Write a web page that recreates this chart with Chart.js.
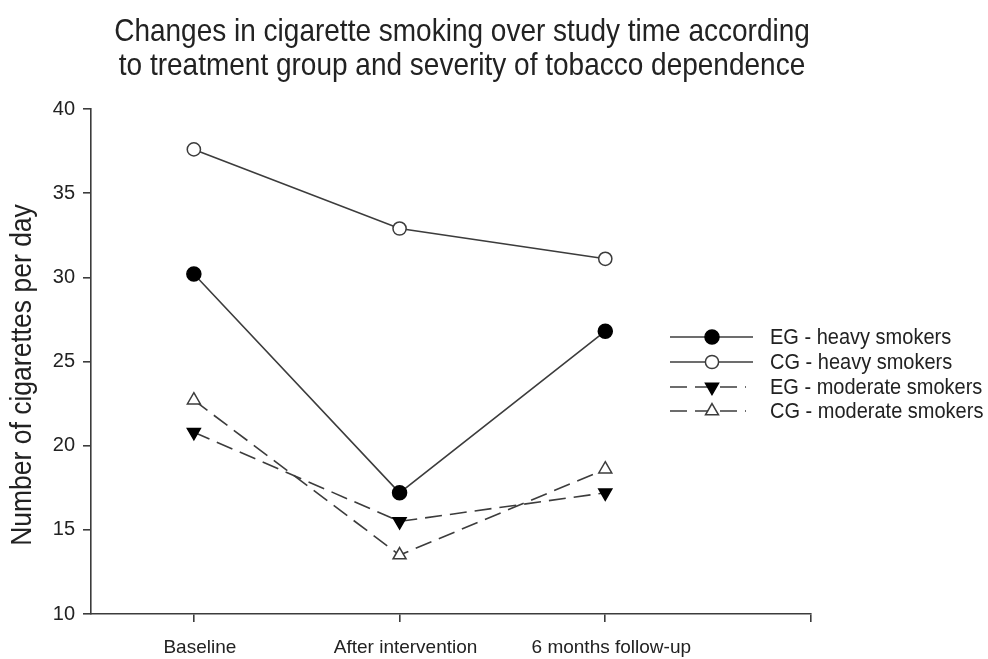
<!DOCTYPE html>
<html>
<head>
<meta charset="utf-8">
<script src="https://cdn.jsdelivr.net/npm/chart.js@4/dist/chart.umd.min.js"></script>
<style>
  html, body { margin: 0; padding: 0; background: #ffffff; }
  #wrap { width: 988px; height: 659px; position: relative; }
</style>
</head>
<body>
<div id="wrap"><canvas id="c"></canvas></div>
<script>
// Chart text
const titleLines = [
  'Changes in cigarette smoking over study time according',
  'to treatment group and severity of tobacco dependence'
];
const yAxisTitle = 'Number of cigarettes per day';

// Time points and axis ticks
const categories = ['Baseline', 'After intervention', '6 months follow-up'];
const yTicks = [10, 15, 20, 25, 30, 35, 40];

// Mean cigarettes per day by group
const seriesNames = ['EG - heavy smokers', 'CG - heavy smokers', 'EG - moderate smokers', 'CG - moderate smokers'];
const egHeavy    = [30.2, 17.2, 26.8];
const cgHeavy    = [37.6, 32.9, 31.1];
const egModerate = [20.8, 15.5, 17.2];
const cgModerate = [22.7, 13.5, 18.6];

const INK = '#222222';
const LINE = '#3c3c3c';
const FONT = "'Liberation Sans', Arial, Helvetica, sans-serif";

const toPoints = vals => vals.map((v, i) => ({ x: i, y: v }));

function series(label, vals, opts) {
  return Object.assign({
    label,
    data: toPoints(vals),
    borderColor: LINE,
    borderWidth: 1.6,
    pointBorderColor: LINE,
    pointBorderWidth: 1.5,
    pointHoverRadius: 7,
    tension: 0,
    fill: false
  }, opts);
}

const datasets = [
  series(seriesNames[0], egHeavy,    { pointStyle: 'circle',   pointRadius: 7,   pointBackgroundColor: '#000000', pointBorderColor: '#000000' }),
  series(seriesNames[1], cgHeavy,    { pointStyle: 'circle',   pointRadius: 6.6, pointBackgroundColor: '#ffffff' }),
  series(seriesNames[2], egModerate, { pointStyle: 'triangle', pointRadius: 7.5, pointRotation: 180, pointBackgroundColor: '#000000', pointBorderColor: '#000000', borderDash: [17, 8] }),
  series(seriesNames[3], cgModerate, { pointStyle: 'triangle', pointRadius: 7.5, pointBackgroundColor: '#ffffff', borderDash: [17, 8] })
];

// Draws one marker in the same style as the dataset's points
function drawMarker(ctx, ds, x, y) {
  const r = ds.pointRadius;
  ctx.save();
  ctx.lineWidth = ds.pointBorderWidth;
  ctx.strokeStyle = ds.pointBorderColor;
  ctx.fillStyle = ds.pointBackgroundColor;
  ctx.setLineDash([]);
  ctx.beginPath();
  if (ds.pointStyle === 'circle') {
    ctx.arc(x, y, r, 0, Math.PI * 2);
  } else {
    let rad = (ds.pointRotation || 0) * Math.PI / 180;
    for (let k = 0; k < 3; k++) {
      const px = x + Math.sin(rad) * r, py = y - Math.cos(rad) * r;
      if (k === 0) ctx.moveTo(px, py); else ctx.lineTo(px, py);
      rad += 2 * Math.PI / 3;
    }
    ctx.closePath();
  }
  ctx.fill();
  ctx.stroke();
  ctx.restore();
}

// Text drawn slightly taller than wide, like the narrow plot lettering
function tallText(ctx, text, x, y, size, stretch) {
  ctx.save();
  ctx.translate(x, y);
  ctx.scale(1, stretch);
  ctx.font = `${size}px ${FONT}`;
  ctx.fillText(text, 0, 0);
  ctx.restore();
}

// Title, rotated y-axis title and the line/marker key on the right
const decorations = {
  id: 'decorations',
  afterDraw(chart) {
    const ctx = chart.ctx;
    ctx.save();
    ctx.fillStyle = INK;
    ctx.textAlign = 'center';
    ctx.textBaseline = 'middle';
    tallText(ctx, titleLines[0], 462, 32, 28, 1.12);
    tallText(ctx, titleLines[1], 462, 66, 28, 1.12);

    ctx.save();
    ctx.translate(23, 375);
    ctx.rotate(-Math.PI / 2);
    tallText(ctx, yAxisTitle, 0, 0, 26.5, 1.08);
    ctx.restore();

    const rows = [337, 362, 387, 411];
    ctx.textAlign = 'left';
    chart.data.datasets.forEach((ds, i) => {
      const y = rows[i];
      ctx.save();
      ctx.strokeStyle = ds.borderColor;
      ctx.lineWidth = ds.borderWidth;
      ctx.setLineDash(ds.borderDash || []);
      ctx.beginPath();
      ctx.moveTo(670, y);
      ctx.lineTo(ds.borderDash ? 746 : 753, y);
      ctx.stroke();
      ctx.restore();
      drawMarker(ctx, ds, 712, y);
      ctx.fillStyle = INK;
      tallText(ctx, ds.label, 770, y + 1, 20, 1.08);
    });
    ctx.restore();
  }
};

const axisLine = { display: true, color: LINE, width: 1.6 };
const axisGrid = { display: true, drawOnChartArea: false, drawTicks: true, tickLength: 8, color: LINE, lineWidth: 1.6 };

new Chart(document.getElementById('c'), {
  type: 'line',
  data: { datasets },
  options: {
    responsive: true,
    maintainAspectRatio: false,
    animation: false,
    layout: { padding: { left: 0, top: 109, right: 177, bottom: 0 } },
    plugins: { legend: { display: false }, title: { display: false }, tooltip: { enabled: false } },
    scales: {
      x: {
        type: 'linear',
        min: -0.5,
        max: 3,
        border: axisLine,
        grid: axisGrid,
        afterBuildTicks: s => { s.ticks = [0, 1, 2, 3].map(v => ({ value: v })); },
        afterFit: s => { s.height = 45; },
        ticks: {
          autoSkip: false,
          maxRotation: 0,
          padding: 14,
          labelOffset: 6,
          color: INK,
          font: { family: FONT, size: 19 },
          callback: v => categories[v] || ''
        }
      },
      y: {
        type: 'linear',
        min: 10,
        max: 40,
        border: axisLine,
        grid: axisGrid,
        afterBuildTicks: s => { s.ticks = yTicks.map(v => ({ value: v })); },
        afterFit: s => { s.width = 91; },
        ticks: {
          padding: 8,
          color: INK,
          font: { family: FONT, size: 20 }
        }
      }
    }
  },
  plugins: [decorations]
});
</script>
</body>
</html>
